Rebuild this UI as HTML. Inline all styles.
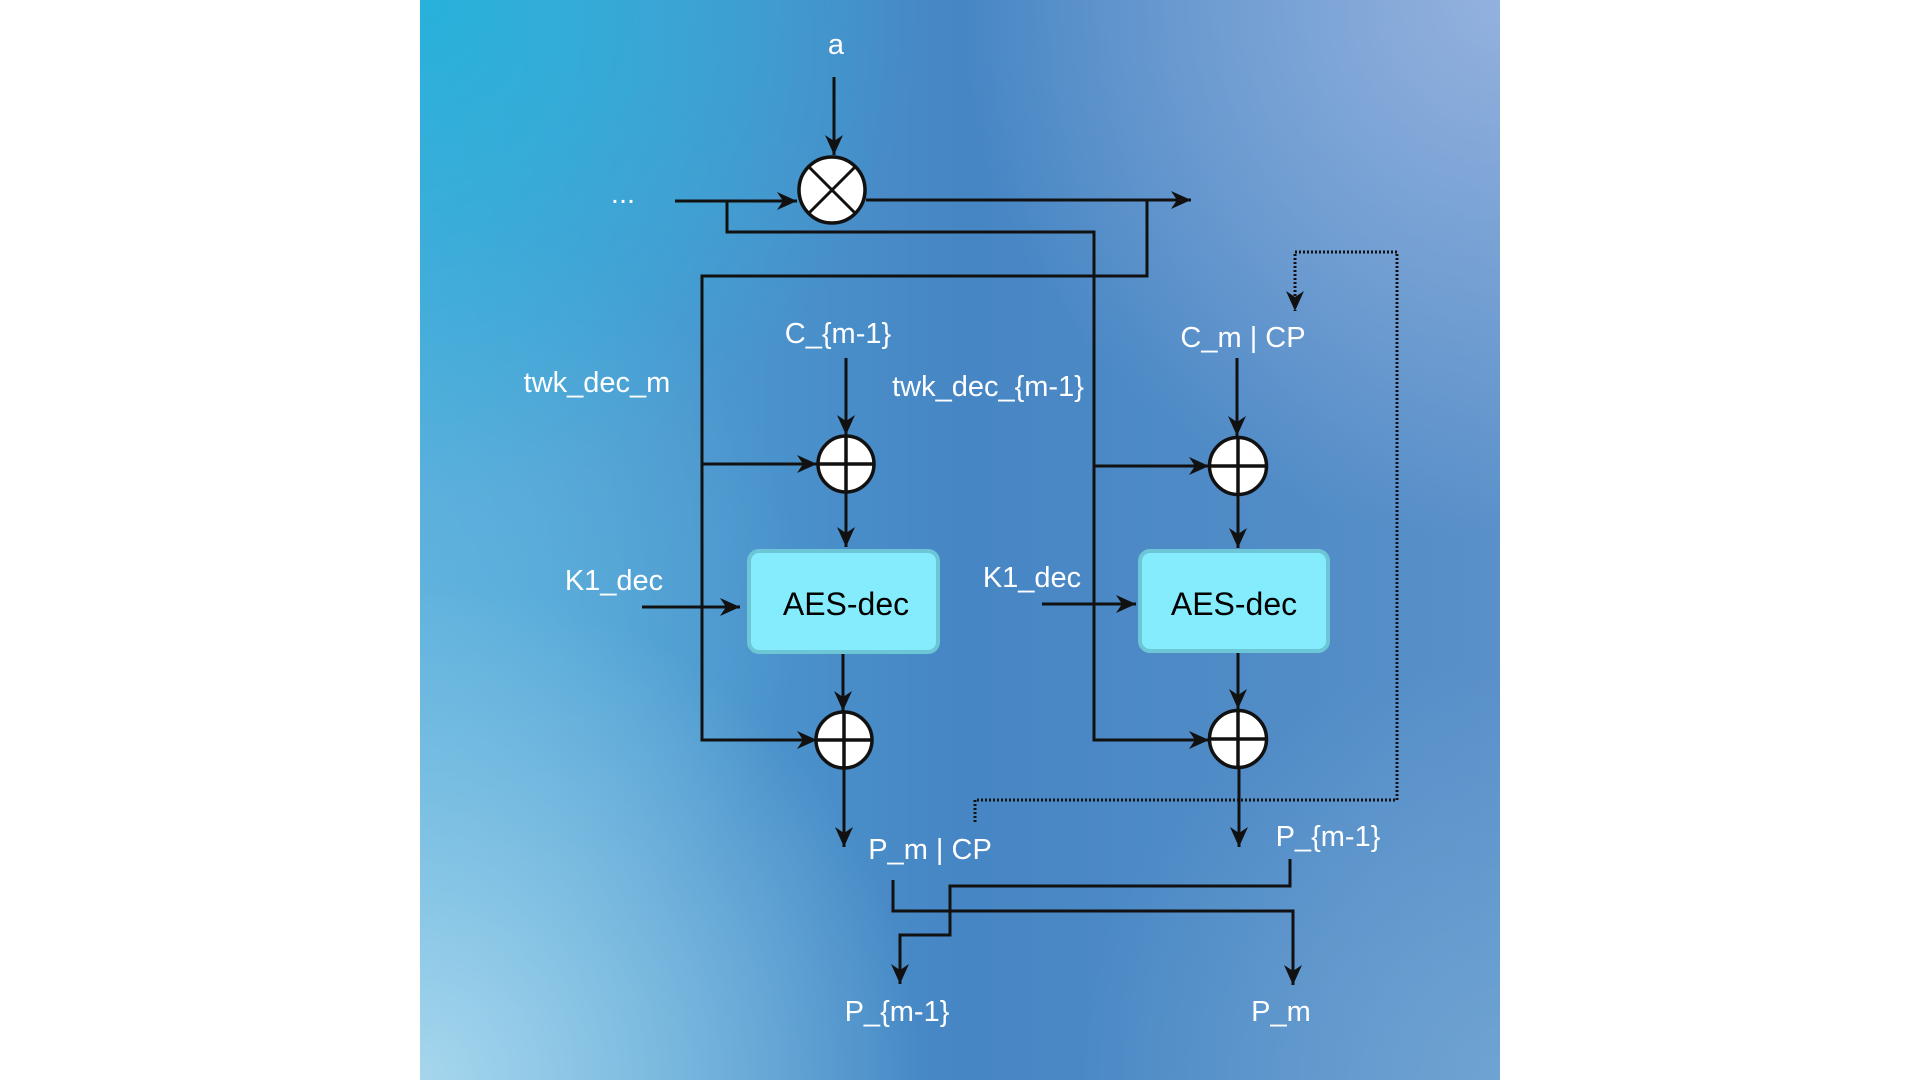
<!DOCTYPE html>
<html><head><meta charset="utf-8"><style>
html,body{margin:0;padding:0;background:#fff;width:1920px;height:1080px;overflow:hidden}
svg{display:block}
text{font-family:"Liberation Sans",sans-serif;fill:#fff}
</style></head><body>
<svg width="1920" height="1080" viewBox="0 0 1920 1080" xmlns="http://www.w3.org/2000/svg">
<defs>
<linearGradient id="base" x1="0" y1="0" x2="1" y2="0">
<stop offset="0" stop-color="#52a9d9"/>
<stop offset="0.5" stop-color="#4686c4"/>
<stop offset="1" stop-color="#5990c9"/>
</linearGradient>
<radialGradient id="tl" cx="420" cy="0" r="500" gradientUnits="userSpaceOnUse">
<stop offset="0" stop-color="#27b1da" stop-opacity="1"/>
<stop offset="1" stop-color="#27b1da" stop-opacity="0"/>
</radialGradient>
<radialGradient id="tr" cx="1500" cy="0" r="540" gradientUnits="userSpaceOnUse">
<stop offset="0" stop-color="#93b1de" stop-opacity="1"/>
<stop offset="1" stop-color="#93b1de" stop-opacity="0"/>
</radialGradient>
<radialGradient id="bl" cx="420" cy="1080" r="500" gradientUnits="userSpaceOnUse">
<stop offset="0" stop-color="#a6d6ed" stop-opacity="1"/>
<stop offset="1" stop-color="#a6d6ed" stop-opacity="0"/>
</radialGradient>
<radialGradient id="br" cx="1500" cy="1080" r="420" gradientUnits="userSpaceOnUse">
<stop offset="0" stop-color="#6ea3d2" stop-opacity="1"/>
<stop offset="1" stop-color="#6ea3d2" stop-opacity="0"/>
</radialGradient>
<radialGradient id="ml" cx="420" cy="600" r="380" gradientUnits="userSpaceOnUse">
<stop offset="0" stop-color="#62b4de" stop-opacity="0.85"/>
<stop offset="1" stop-color="#62b4de" stop-opacity="0"/>
</radialGradient>
<marker id="ar" markerWidth="22" markerHeight="20" refX="20" refY="9" orient="auto" markerUnits="userSpaceOnUse">
<path d="M0,0 L20,9 L0,18 L6,9 z" fill="#111"/>
</marker>
</defs>
<rect x="420" y="0" width="1080" height="1080" fill="url(#base)"/>
<rect x="420" y="0" width="1080" height="1080" fill="url(#ml)"/>
<rect x="420" y="0" width="1080" height="1080" fill="url(#tl)"/>
<rect x="420" y="0" width="1080" height="1080" fill="url(#tr)"/>
<rect x="420" y="0" width="1080" height="1080" fill="url(#bl)"/>
<rect x="420" y="0" width="1080" height="1080" fill="url(#br)"/>

<g stroke="#111" stroke-width="3" fill="none">
<line x1="834" y1="77" x2="834" y2="155" marker-end="url(#ar)"/>
<line x1="675" y1="201" x2="797" y2="201" marker-end="url(#ar)"/>
<line x1="866" y1="200" x2="1191" y2="200" marker-end="url(#ar)"/>
<polyline points="727,201 727,232 1094,232 1094,740 1209,740" marker-end="url(#ar)"/>
<line x1="1094" y1="466" x2="1209" y2="466" marker-end="url(#ar)"/>
<polyline points="1147,200 1147,276 702,276 702,740 817,740" marker-end="url(#ar)"/>
<line x1="702" y1="464" x2="817" y2="464" marker-end="url(#ar)"/>
<line x1="846" y1="358" x2="846" y2="435" marker-end="url(#ar)"/>
<line x1="846" y1="492" x2="846" y2="547" marker-end="url(#ar)"/>
<line x1="843" y1="653" x2="843" y2="711" marker-end="url(#ar)"/>
<line x1="844" y1="768" x2="844" y2="847" marker-end="url(#ar)"/>
<line x1="642" y1="607" x2="740" y2="607" marker-end="url(#ar)"/>
<line x1="1237" y1="358" x2="1237" y2="436" marker-end="url(#ar)"/>
<line x1="1238" y1="495" x2="1238" y2="548" marker-end="url(#ar)"/>
<line x1="1238" y1="652" x2="1238" y2="709" marker-end="url(#ar)"/>
<line x1="1239" y1="768" x2="1239" y2="847" marker-end="url(#ar)"/>
<line x1="1042" y1="604" x2="1136" y2="604" marker-end="url(#ar)"/>
<polyline points="893,880 893,911 1293,911 1293,985" marker-end="url(#ar)"/>
<polyline points="1290,859 1290,886 950,886 950,935 900,935 900,984" marker-end="url(#ar)"/>
</g>
<polyline points="975,822 975,800 1397,800 1397,252 1295,252 1295,311" fill="none" stroke="#111" stroke-width="3" stroke-dasharray="2 2" marker-end="url(#ar)"/>

<circle cx="832" cy="190" r="33" fill="#fff" stroke="#111" stroke-width="3.5"/>
<line x1="809" y1="167" x2="855" y2="213" stroke="#111" stroke-width="3"/>
<line x1="855" y1="167" x2="809" y2="213" stroke="#111" stroke-width="3"/>

<g stroke="#111" stroke-width="3.5">
<circle cx="846" cy="464" r="28" fill="#fff"/>
<line x1="818" y1="464" x2="874" y2="464"/><line x1="846" y1="436" x2="846" y2="492"/>
<circle cx="844" cy="740" r="28" fill="#fff"/>
<line x1="816" y1="740" x2="872" y2="740"/><line x1="844" y1="712" x2="844" y2="768"/>
<circle cx="1238" cy="466" r="28.5" fill="#fff"/>
<line x1="1209.5" y1="466" x2="1266.5" y2="466"/><line x1="1238" y1="437.5" x2="1238" y2="494.5"/>
<circle cx="1238" cy="739" r="28.5" fill="#fff"/>
<line x1="1209.5" y1="739" x2="1266.5" y2="739"/><line x1="1238" y1="710.5" x2="1238" y2="767.5"/>
</g>

<rect x="749" y="551" width="189" height="101" rx="10" fill="#85ecfd" stroke="#6cc6d6" stroke-width="4"/>
<rect x="1140" y="551" width="188" height="100" rx="10" fill="#85ecfd" stroke="#6cc6d6" stroke-width="4"/>
<text x="846" y="604" font-size="32" text-anchor="middle" dominant-baseline="central" style="fill:#000">AES-dec</text>
<text x="1234" y="604" font-size="32" text-anchor="middle" dominant-baseline="central" style="fill:#000">AES-dec</text>

<g font-size="29" text-anchor="middle" dominant-baseline="central">
<text x="836" y="45">a</text>
<text x="623" y="194">...</text>
<text x="838" y="334">C_{m-1}</text>
<text x="597" y="383">twk_dec_m</text>
<text x="988" y="387">twk_dec_{m-1}</text>
<text x="1243" y="338">C_m | CP</text>
<text x="614" y="581">K1_dec</text>
<text x="1032" y="578">K1_dec</text>
<text x="930" y="850">P_m | CP</text>
<text x="1328" y="837">P_{m-1}</text>
<text x="897" y="1012">P_{m-1}</text>
<text x="1281" y="1012">P_m</text>
</g>
</svg>
</body></html>
